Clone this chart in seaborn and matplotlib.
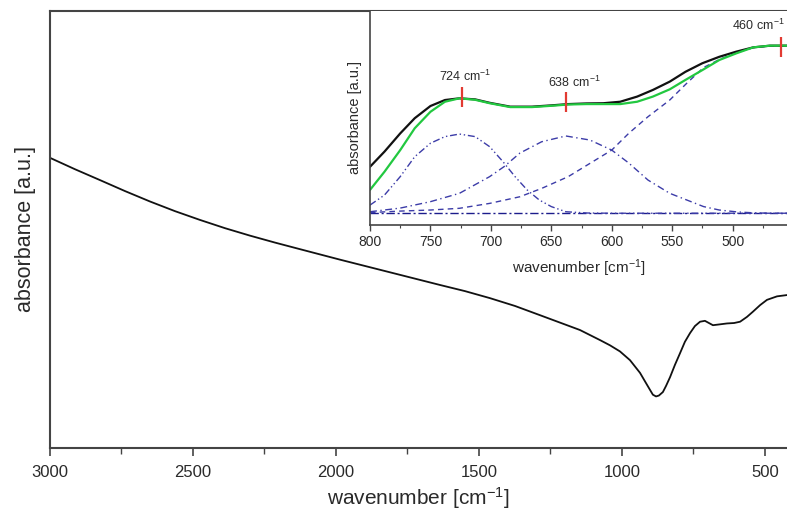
import numpy as np
import pandas as pd
import matplotlib
matplotlib.use("Agg")
import matplotlib.pyplot as plt
from matplotlib.ticker import MultipleLocator
import seaborn as sns

# ---------------- data ----------------
# main spectrum
main_wn = [3000, 2913, 2825, 2738, 2650, 2563, 2476, 2388, 2301, 2213, 2126,
           1986, 1811, 1636, 1549, 1462, 1374, 1287, 1217, 1147, 1077, 1042,
           1007, 972, 937, 920, 902, 892, 881, 871, 857, 846, 832, 815, 797,
           780, 762, 745, 727, 710, 696, 682, 657, 633, 608, 587, 563, 542,
           517, 493, 458, 423]
main_abs = [0.664, 0.638, 0.613, 0.588, 0.564, 0.542, 0.522, 0.503, 0.486,
            0.470, 0.455, 0.431, 0.402, 0.373, 0.359, 0.343, 0.325, 0.304,
            0.287, 0.270, 0.247, 0.235, 0.221, 0.201, 0.172, 0.153, 0.133,
            0.122, 0.118, 0.120, 0.128, 0.142, 0.162, 0.190, 0.217, 0.243,
            0.263, 0.279, 0.289, 0.291, 0.286, 0.281, 0.283, 0.285, 0.286,
            0.289, 0.300, 0.312, 0.327, 0.339, 0.347, 0.350]

# inset: measured spectrum
meas_wn = [800, 788, 775, 763, 750, 738, 726, 713, 701, 684, 666, 650, 636,
           621, 607, 593, 579, 566, 552, 539, 525, 511, 497, 483, 469, 455]
meas_abs = [0.272, 0.343, 0.428, 0.499, 0.556, 0.584, 0.592, 0.587, 0.571,
            0.553, 0.553, 0.559, 0.565, 0.568, 0.569, 0.576, 0.600, 0.631,
            0.670, 0.716, 0.756, 0.786, 0.810, 0.830, 0.838, 0.838]

# inset: fitted sum
fit_wn = [800, 788, 775, 763, 750, 738, 726, 713, 701, 684, 666, 650, 636,
          621, 607, 593, 579, 566, 552, 539, 525, 511, 497, 483, 469, 455]
fit_abs = [0.164, 0.249, 0.350, 0.452, 0.529, 0.576, 0.592, 0.585, 0.569,
           0.551, 0.551, 0.557, 0.563, 0.565, 0.565, 0.565, 0.576, 0.600,
           0.634, 0.678, 0.724, 0.771, 0.802, 0.830, 0.838, 0.838]

# inset: fitted components
c1_wn = [800, 788, 775, 763, 750, 738, 726, 713, 701, 690, 680, 670, 660,
         650, 638, 620, 600, 550, 500, 455]
c1_abs = [0.093, 0.140, 0.226, 0.319, 0.382, 0.413, 0.425, 0.413, 0.366,
          0.296, 0.226, 0.164, 0.117, 0.086, 0.062, 0.056, 0.055, 0.055,
          0.055, 0.055]

c2_wn = [800, 775, 750, 726, 701, 689, 676, 658, 638, 618, 600, 586, 570,
         552, 538, 524, 511, 496, 480, 455]
c2_abs = [0.062, 0.079, 0.109, 0.148, 0.226, 0.273, 0.336, 0.389, 0.416,
          0.397, 0.350, 0.290, 0.210, 0.148, 0.117, 0.086, 0.070, 0.061,
          0.056, 0.055]

c3_wn = [800, 775, 750, 726, 701, 676, 658, 636, 618, 600, 586, 570, 552,
         538, 524, 510, 496, 483, 469, 455]
c3_abs = [0.058, 0.065, 0.070, 0.078, 0.101, 0.132, 0.171, 0.226, 0.288,
          0.350, 0.428, 0.506, 0.584, 0.662, 0.736, 0.776, 0.806, 0.829,
          0.836, 0.836]

base_wn = [800, 455]
base_abs = [0.055, 0.055]

peak_pos = [724, 638, 460]
peak_height = [0.598, 0.573, 0.833]
peak_labels = ["724 cm$^{-1}$", "638 cm$^{-1}$", "460 cm$^{-1}$"]
label_x = [721, 631, 479]
label_y = [0.695, 0.665, 0.935]

# ---------------- style ----------------
sns.set_theme(style="white")
plt.rcParams["font.family"] = ["Liberation Sans", "DejaVu Sans"]
plt.rcParams["mathtext.fontset"] = "custom"
plt.rcParams["mathtext.rm"] = "Liberation Sans"
plt.rcParams["mathtext.it"] = "Liberation Sans:italic"
plt.rcParams["mathtext.default"] = "regular"

text_col = "#2a2a2a"
spine_col = "#444444"

fig = plt.figure(figsize=(7.87, 5.13), dpi=100)

# ---------------- main axes ----------------
ax = fig.add_axes([50 / 787, 65 / 513, 737 / 787, 437 / 513])
df_main = pd.DataFrame({"wn": main_wn, "abs": main_abs})
sns.lineplot(data=df_main, x="wn", y="abs", ax=ax, color="#111111",
             linewidth=1.3, estimator=None, sort=False)
ax.set_xlim(3000, 423)
ax.set_ylim(0, 1)
ax.set_yticks([])
ax.xaxis.set_major_locator(MultipleLocator(500))
ax.xaxis.set_minor_locator(MultipleLocator(250))
ax.tick_params(axis="x", which="major", direction="out", length=6, width=1.2,
               color=spine_col, labelsize=12, labelcolor=text_col, pad=6,
               bottom=True)
ax.tick_params(axis="x", which="minor", direction="out", length=4, width=1.0,
               color=spine_col, bottom=True)
ax.set_xlabel("wavenumber [cm$^{-1}$]", fontsize=15, color=text_col,
              labelpad=4)
ax.set_ylabel("absorbance [a.u.]", fontsize=15.5, color=text_col, labelpad=10)
for s in ["top", "left", "bottom"]:
    ax.spines[s].set_color(spine_col)
    ax.spines[s].set_linewidth(1.5)
ax.spines["right"].set_visible(False)

# ---------------- inset ----------------
ins = fig.add_axes([370 / 787, 288 / 513, 417 / 787, 214 / 513])
ins.set_facecolor("white")
comp_col = "#3c3ca8"
sns.lineplot(x=base_wn, y=base_abs, ax=ins, color="#1c1c8c", linewidth=1.0,
             linestyle=(0, (6, 2, 1.5, 2)), estimator=None, sort=False)
sns.lineplot(x=c1_wn, y=c1_abs, ax=ins, color=comp_col, linewidth=1.0,
             linestyle=(0, (5, 2, 1, 2, 1, 2)), estimator=None, sort=False)
sns.lineplot(x=c2_wn, y=c2_abs, ax=ins, color=comp_col, linewidth=1.0,
             linestyle=(0, (5, 2.5, 1, 2.5)), estimator=None, sort=False)
sns.lineplot(x=c3_wn, y=c3_abs, ax=ins, color=comp_col, linewidth=1.0,
             linestyle=(0, (4, 3)), estimator=None, sort=False)
sns.lineplot(x=meas_wn, y=meas_abs, ax=ins, color="#111111", linewidth=1.6,
             estimator=None, sort=False)
sns.lineplot(x=fit_wn, y=fit_abs, ax=ins, color="#22c840", linewidth=1.6,
             estimator=None, sort=False)
ins.vlines(peak_pos, [h - 0.047 for h in peak_height],
           [h + 0.047 for h in peak_height], color="#e23a32", linewidth=1.6,
           zorder=5)
for lx, ly, lt in zip(label_x, label_y, peak_labels):
    ins.text(lx, ly, lt, ha="center", va="center", fontsize=9,
             color=text_col)
ins.set_xlim(800, 455)
ins.set_ylim(0, 1)
ins.set_yticks([])
ins.xaxis.set_major_locator(MultipleLocator(50))
ins.xaxis.set_minor_locator(MultipleLocator(25))
ins.tick_params(axis="x", which="major", direction="out", length=4, width=1.0,
                color=spine_col, labelsize=10, labelcolor=text_col, pad=3,
                bottom=True)
ins.tick_params(axis="x", which="minor", direction="out", length=2.5,
                width=0.8, color=spine_col, bottom=True)
ins.set_xlabel("wavenumber [cm$^{-1}$]", fontsize=11, color=text_col,
               labelpad=6)
ins.set_ylabel("absorbance [a.u.]", fontsize=10.5, color=text_col,
               labelpad=6)
for s in ["left", "bottom"]:
    ins.spines[s].set_color(spine_col)
    ins.spines[s].set_linewidth(1.2)
ins.spines["top"].set_visible(False)
ins.spines["right"].set_visible(False)

fig.savefig("out.png", dpi=100)
